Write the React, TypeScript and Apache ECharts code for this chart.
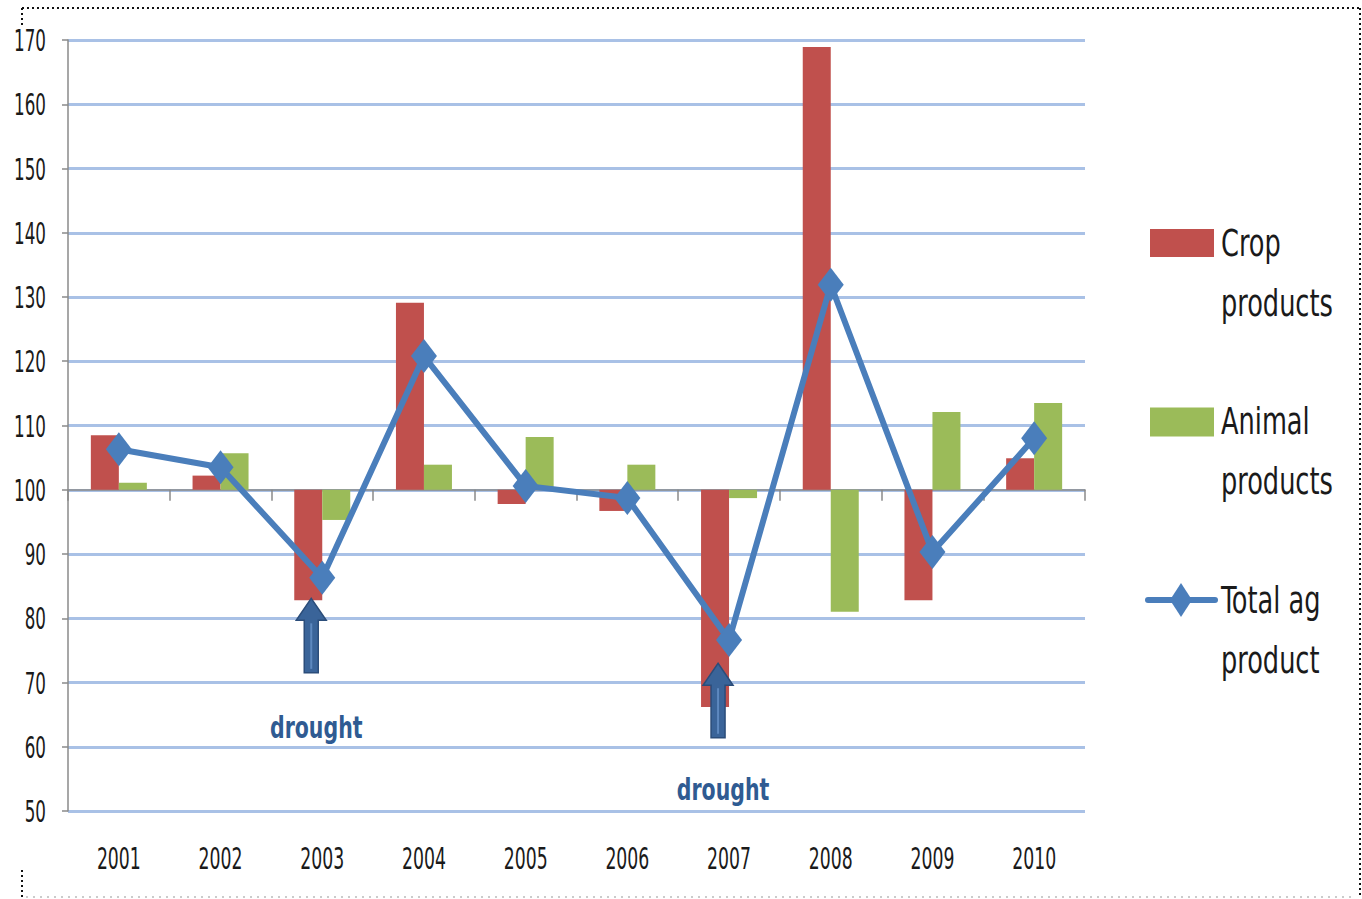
import React, { useEffect, useRef } from "react";
import * as echarts from "echarts";

const years = ["2001", "2002", "2003", "2004", "2005", "2006", "2007", "2008", "2009", "2010"];
const cropProducts = [108.5, 102.2, 82.8, 129.1, 97.8, 96.7, 66.2, 168.9, 82.8, 104.9];
const animalProducts = [101.1, 105.7, 95.3, 103.9, 108.2, 103.9, 98.7, 81.0, 112.1, 113.5];
const totalAgProduct = [106.3, 103.5, 86.3, 120.8, 100.6, 98.7, 76.6, 131.9, 90.3, 108.0];

const BASE = 100;
const Y_MIN = 50;
const Y_MAX = 170;
const Y_STEP = 10;
const yTickValues = [50, 60, 70, 80, 90, 100, 110, 120, 130, 140, 150, 160, 170];

// drought annotations: category, arrow tip value, arrow base value, label value
const droughtYears = ["2003", "2007"];
const droughtTip = [83.1, 73.0];
const droughtBase = [71.5, 61.4];
const droughtLabelAt = [63.1, 53.3];
const droughtText = "drought";

const legendNames = [["Crop", "products"], ["Animal", "products"], ["Total ag", "product"]];

const FONT = "'DejaVu Sans Condensed', 'Liberation Sans', sans-serif";
const RED = "#c0504d";
const GREEN = "#9bbb59";
const BLUE = "#4a7ebb";
const GRID = "#a9c1e6";
const AXIS = "#8a8a8a";

export default function App() {
  const ref = useRef<HTMLDivElement>(null);

  useEffect(() => {
    if (!ref.current) return;
    const chart = echarts.init(ref.current, null, { renderer: "svg" });
    const shift = (v: number) => +(v - BASE).toFixed(3);

    const option: any = {
      animation: false,
      backgroundColor: "#ffffff",
      grid: { left: 68, right: 277, top: 40, bottom: 88, containLabel: false },
      xAxis: {
        type: "category",
        data: years,
        position: "bottom",
        axisLine: { show: true, onZero: true, lineStyle: { color: AXIS, width: 1.5 } },
        axisTick: { show: true, length: 11, lineStyle: { color: AXIS, width: 1.5 } },
        axisLabel: { show: false },
        splitLine: { show: false },
      },
      yAxis: {
        type: "value",
        min: Y_MIN - BASE,
        max: Y_MAX - BASE,
        interval: Y_STEP,
        axisLine: { show: true, onZero: false, lineStyle: { color: AXIS, width: 1.5 } },
        axisTick: { show: true, length: 6, lineStyle: { color: AXIS, width: 1.5 } },
        axisLabel: { show: false },
        splitLine: { show: true, lineStyle: { color: GRID, width: 3 } },
      },
      series: [
        {
          name: "Crop products",
          type: "bar",
          data: cropProducts.map(shift),
          barWidth: 28,
          barGap: "0%",
          itemStyle: { color: RED },
        },
        {
          name: "Animal products",
          type: "bar",
          data: animalProducts.map(shift),
          barWidth: 28,
          barGap: "0%",
          itemStyle: { color: GREEN },
        },
        {
          name: "Total ag product",
          type: "line",
          data: totalAgProduct.map(shift),
          symbol: "diamond",
          symbolSize: [26, 34],
          lineStyle: { color: BLUE, width: 6 },
          itemStyle: { color: BLUE },
          z: 5,
        },
      ],
    };
    chart.setOption(option);

    const toPx = (idx: number, v: number) =>
      chart.convertToPixel({ xAxisIndex: 0, yAxisIndex: 0 }, [idx, v - BASE]) as number[];

    const graphics: any[] = [];
    // dotted frame
    const dot = { stroke: "#111", lineWidth: 2, lineDash: [2, 3] };
    graphics.push({ type: "line", shape: { x1: 22, y1: 8, x2: 1360, y2: 8 }, style: dot, silent: true });
    graphics.push({ type: "line", shape: { x1: 1360, y1: 8, x2: 1360, y2: 897 }, style: dot, silent: true });
    graphics.push({ type: "line", shape: { x1: 22, y1: 8, x2: 22, y2: 26 }, style: dot, silent: true });
    graphics.push({ type: "line", shape: { x1: 22, y1: 870, x2: 22, y2: 897 }, style: dot, silent: true });
    graphics.push({
      type: "line",
      shape: { x1: 26, y1: 897, x2: 1356, y2: 897 },
      style: { stroke: "#bbb", lineWidth: 1.5, lineDash: [2, 5] },
      silent: true,
    });

    // y tick labels (condensed)
    yTickValues.forEach((v) => {
      const [, py] = toPx(0, v);
      graphics.push({
        type: "text",
        x: 46,
        y: py + 1,
        scaleX: 0.62,
        style: {
          text: String(v),
          fill: "#1a1a1a",
          font: `30px ${FONT}`,
          textAlign: "right",
          textVerticalAlign: "middle",
        },
      });
    });
    // x category labels
    years.forEach((yr, i) => {
      const [px] = toPx(i, Y_MIN);
      graphics.push({
        type: "text",
        x: px,
        y: 859,
        scaleX: 0.64,
        style: {
          text: yr,
          fill: "#1a1a1a",
          font: `30px ${FONT}`,
          textAlign: "center",
          textVerticalAlign: "middle",
        },
      });
    });

    // drought arrows & labels
    const ARROW_DX = -11;
    droughtYears.forEach((yr, i) => {
      const idx = years.indexOf(yr);
      const [cx, yt] = toPx(idx, droughtTip[i]);
      const [, yb] = toPx(idx, droughtBase[i]);
      const [, yl] = toPx(idx, droughtLabelAt[i]);
      const x = cx + ARROW_DX;
      graphics.push({
        type: "polygon",
        z: 10,
        shape: {
          points: [
            [x, yt],
            [x + 15, yt + 22],
            [x + 7, yt + 22],
            [x + 7, yb],
            [x - 7, yb],
            [x - 7, yt + 22],
            [x - 15, yt + 22],
          ],
        },
        style: { fill: "#3a6499", stroke: "#2b4d7a", lineWidth: 1.5 },
      });
      graphics.push({
        type: "line",
        z: 11,
        shape: { x1: x, y1: yt + 25, x2: x, y2: yb - 4 },
        style: { stroke: "#5d88bf", lineWidth: 2 },
      });
      graphics.push({
        type: "text",
        z: 10,
        x: cx - 6,
        y: yl,
        scaleX: 0.76,
        style: {
          text: droughtText,
          fill: "#2f5b92",
          font: `bold 30px ${FONT}`,
          textAlign: "center",
          textVerticalAlign: "middle",
        },
      });
    });

    // legend
    const legendY = [243, 421.5, 600];
    const textStyle = (t: string) => ({
      text: t,
      fill: "#1a1a1a",
      font: `37px ${FONT}`,
      textAlign: "left",
      textVerticalAlign: "middle",
    });
    graphics.push({ type: "rect", shape: { x: 1150, y: legendY[0] - 14, width: 64, height: 28 }, style: { fill: RED } });
    graphics.push({ type: "rect", shape: { x: 1150, y: legendY[1] - 14, width: 64, height: 29 }, style: { fill: GREEN } });
    graphics.push({
      type: "line",
      shape: { x1: 1148, y1: legendY[2], x2: 1215, y2: legendY[2] },
      style: { stroke: BLUE, lineWidth: 6, lineCap: "round" },
    });
    graphics.push({
      type: "polygon",
      shape: {
        points: [
          [1181, legendY[2] - 17],
          [1192, legendY[2]],
          [1181, legendY[2] + 17],
          [1170, legendY[2]],
        ],
      },
      style: { fill: BLUE },
    });
    legendNames.forEach((lines, i) => {
      lines.forEach((ln, j) => {
        graphics.push({ type: "text", x: 1221, y: legendY[i] + j * 60, scaleX: 0.77, style: textStyle(ln) });
      });
    });

    chart.setOption({ graphic: graphics });

    return () => chart.dispose();
  }, []);

  return (
    <div
      ref={ref}
      style={{ position: "fixed", left: 0, top: 0, width: 1362, height: 899, background: "#fff" }}
    />
  );
}
